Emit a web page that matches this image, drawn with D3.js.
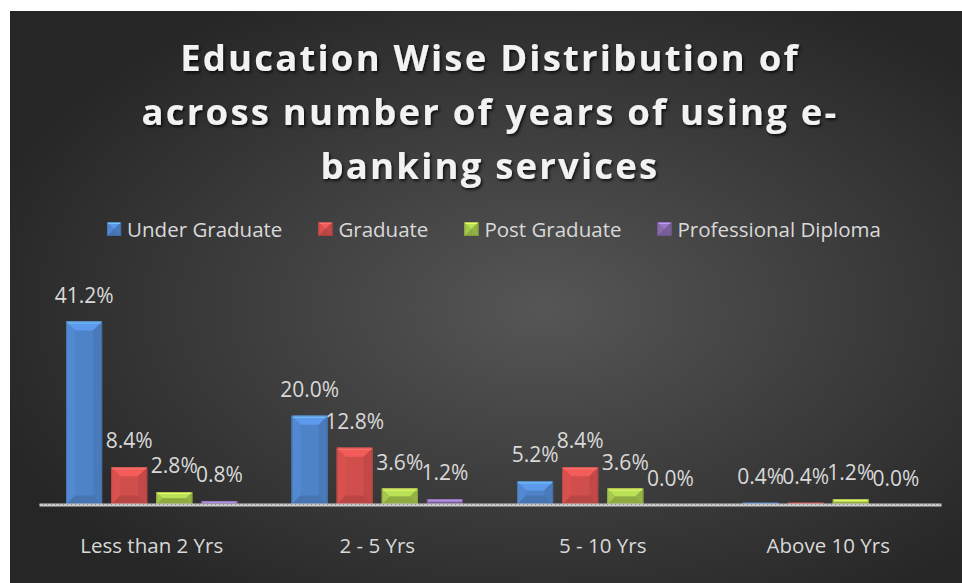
<!DOCTYPE html>
<html>
<head>
<meta charset="utf-8">
<script src="https://cdn.jsdelivr.net/npm/d3@7"></script>
<style>
  html, body { margin: 0; padding: 0; background: #ffffff; }
  svg { display: block; }
</style>
</head>
<body>
<svg id="chart" width="962" height="583"></svg>
<script>
// Share of respondents (%) by years of e-banking use, split by education level
const categories = ["Less than 2 Yrs", "2 - 5 Yrs", "5 - 10 Yrs", "Above 10 Yrs"];
const seriesNames = ["Under Graduate", "Graduate", "Post Graduate", "Professional Diploma"];
const underGraduate = [41.2, 20.0, 5.2, 0.4];
const graduate = [8.4, 12.8, 8.4, 0.4];
const postGraduate = [2.8, 3.6, 3.6, 1.2];
const professionalDiploma = [0.8, 1.2, 0.0, 0.0];
const seriesColors = ["#4f83c8", "#d04e4c", "#9fc04a", "#8468a8"];
const titleLines = ["Education Wise Distribution of", "across number of years of using e-", "banking services"];

const seriesValues = [underGraduate, graduate, postGraduate, professionalDiploma];
const rows = categories.map((c, i) => ({
  category: c,
  values: seriesNames.map((s, j) => ({ series: s, idx: j, value: seriesValues[j][i] }))
}));

const svg = d3.select("#chart");
const W = 962, H = 583;
const font = "'Open Sans', 'DejaVu Sans', sans-serif";

// ----- background panel -----
const defs = svg.append("defs");
const bg = defs.append("radialGradient").attr("id", "bgGrad")
  .attr("cx", "56%").attr("cy", "52%").attr("r", "62%");
bg.append("stop").attr("offset", "0%").attr("stop-color", "#565656");
bg.append("stop").attr("offset", "55%").attr("stop-color", "#3b3b3b");
bg.append("stop").attr("offset", "100%").attr("stop-color", "#262626");

const shadow = defs.append("filter").attr("id", "titleShadow")
  .attr("x", "-10%").attr("y", "-30%").attr("width", "120%").attr("height", "160%");
shadow.append("feDropShadow").attr("dx", 1.5).attr("dy", 2).attr("stdDeviation", 1.5)
  .attr("flood-color", "#000").attr("flood-opacity", 0.75);

svg.append("rect").attr("x", 10).attr("y", 11).attr("width", W - 10).attr("height", H - 11)
  .attr("fill", "url(#bgGrad)");

// ----- title -----
svg.append("g").attr("filter", "url(#titleShadow)")
  .selectAll("text").data(titleLines).join("text")
  .attr("x", 490).attr("y", (d, i) => 71 + i * 54)
  .attr("text-anchor", "middle")
  .attr("font-family", font).attr("font-weight", 700)
  .attr("font-size", 36.5).attr("letter-spacing", 2.2)
  .attr("fill", "#f2f2f2")
  .text(d => d);

// ----- scales -----
const x0 = d3.scaleBand().domain(categories).range([39, 941]).paddingInner(0).paddingOuter(0);
const x1 = d3.scaleBand().domain(seriesNames).range([0, x0.bandwidth()])
  .paddingInner(0.2).paddingOuter(0.6);
const y = d3.scaleLinear().domain([0, 41.2]).range([504.5, 321.5]);

// ----- bevelled bar helper -----
function bevelBar(g, x, yTop, w, h, color, maxB) {
  if (h <= 0) return;
  const c = d3.color(color);
  const b = Math.min(maxB, h / 2, w / 2);
  const light = c.brighter(0.45).formatHex();
  const lighter = c.brighter(0.12).formatHex();
  const dark = c.darker(0.2).formatHex();
  const darker = c.darker(0.32).formatHex();
  const yb = yTop + h;
  const P = pts => pts.map(p => p.join(",")).join(" ");
  g.append("rect").attr("x", x).attr("y", yTop).attr("width", w).attr("height", h).attr("fill", color);
  g.append("polygon").attr("points", P([[x, yTop], [x + w, yTop], [x + w - b, yTop + b], [x + b, yTop + b]])).attr("fill", light);
  g.append("polygon").attr("points", P([[x, yTop], [x + b, yTop + b], [x + b, yb - b], [x, yb]])).attr("fill", lighter);
  g.append("polygon").attr("points", P([[x + w, yTop], [x + w - b, yTop + b], [x + w - b, yb - b], [x + w, yb]])).attr("fill", dark);
  g.append("polygon").attr("points", P([[x, yb], [x + b, yb - b], [x + w - b, yb - b], [x + w, yb]])).attr("fill", darker);
  g.append("line").attr("x1", x + 1).attr("x2", x + w - 1).attr("y1", yTop + 1).attr("y2", yTop + 1)
    .attr("stroke", c.brighter(1.1).formatHex()).attr("stroke-width", Math.min(2, h / 2));
  g.append("rect").attr("x", x + 0.5).attr("y", yTop + 0.5).attr("width", Math.max(0, w - 1)).attr("height", Math.max(0, h - 1))
    .attr("fill", "none").attr("stroke", c.darker(0.8).formatHex()).attr("stroke-opacity", 0.5).attr("stroke-width", 1);
}

// ----- bars -----
const groups = svg.append("g").selectAll("g").data(rows).join("g")
  .attr("transform", d => `translate(${x0(d.category)},0)`);

groups.each(function (row) {
  const g = d3.select(this);
  row.values.forEach(v => {
    const bx = x1(v.series);
    const top = y(v.value);
    bevelBar(g, bx, top, x1.bandwidth(), y(0) - top, seriesColors[v.idx], 9);
  });
});

// ----- category axis line -----
const axis = d3.axisBottom(x0).tickSize(0).tickPadding(0);
const axisG = svg.append("g").attr("transform", `translate(0,${y(0)})`).call(axis);
axisG.select(".domain").attr("stroke", "#c9c9c9").attr("stroke-width", 3);
axisG.append("line").attr("x1", 39).attr("x2", 941).attr("y1", 0).attr("y2", 0)
  .attr("stroke", "#8a8a8a").attr("stroke-width", 1).attr("stroke-dasharray", "1,3");
axisG.selectAll(".tick text")
  .attr("dy", 0).attr("y", 48)
  .attr("font-family", font).attr("font-size", 20.5).attr("fill", "#d9d9d9");

// ----- data labels -----
groups.each(function (row) {
  d3.select(this).selectAll("text.lbl").data(row.values).join("text")
    .attr("class", "lbl")
    .attr("x", v => x1(v.series) + x1.bandwidth() / 2)
    .attr("y", v => y(v.value) - 19)
    .attr("text-anchor", "middle")
    .attr("font-family", font).attr("font-size", 21).attr("fill", "#d9d9d9")
    .text(v => v.value.toFixed(1) + "%");
});

// ----- legend -----
const legend = svg.append("g");
const items = legend.selectAll("g").data(seriesNames).join("g");
items.each(function (name, i) {
  const g = d3.select(this);
  bevelBar(g, 0, -7, 14, 14, seriesColors[i], 7);
  g.append("text").attr("x", 20).attr("y", 7.5)
    .attr("font-family", font).attr("font-size", 20.5).attr("fill", "#d9d9d9")
    .text(name);
});
let cursor = 0;
const gap = 36;
items.each(function () {
  const g = d3.select(this);
  g.attr("transform", `translate(${cursor},229)`);
  cursor += 20 + g.select("text").node().getComputedTextLength() + gap;
});
const totalW = cursor - gap;
legend.attr("transform", `translate(${494 - totalW / 2},0)`);
</script>
</body>
</html>
